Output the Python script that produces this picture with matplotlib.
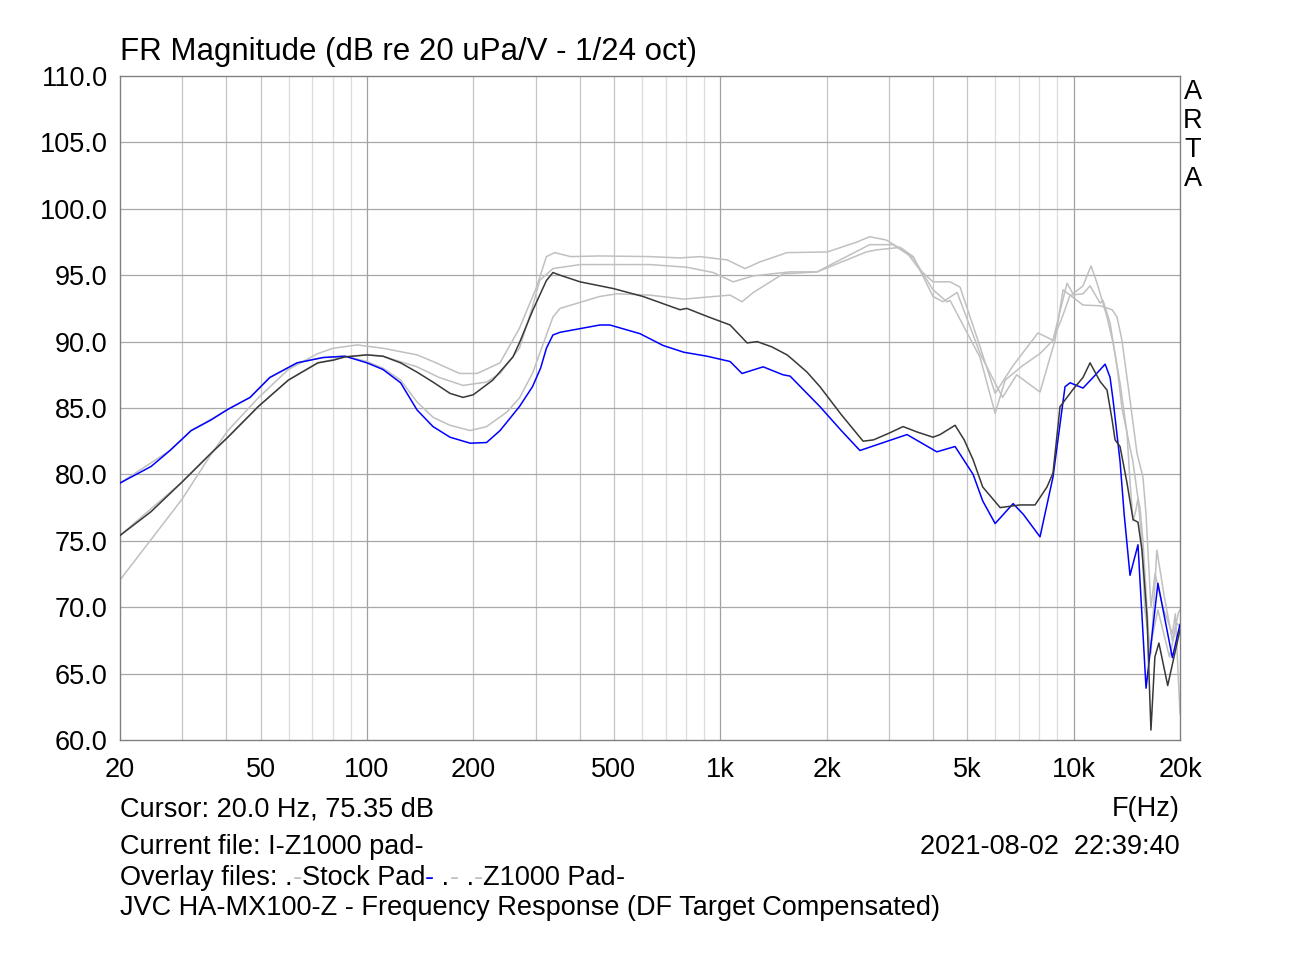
import matplotlib
matplotlib.use("Agg")
import matplotlib.pyplot as plt
from matplotlib.ticker import FixedLocator, NullLocator

plt.rcParams['font.family'] = ['Liberation Sans', 'DejaVu Sans']

# current file: I-Z1000 pad (dark)
cur_f = [20, 24.5, 29.9, 36.2, 40.4, 49.2, 59.9, 72.6, 80.3, 86.7, 100, 111, 124.5, 138.6, 153.8,
         171.8, 187, 200, 227, 259, 270, 294, 322, 336, 352, 401, 497, 604, 769, 804, 917, 1066,
         1191, 1271, 1400, 1545, 1610, 1760, 1915, 2200, 2536, 2714, 3000, 3291, 3600, 4000, 4188,
         4618, 4900, 5194, 5530, 6195, 7046, 7776, 8406, 8741, 9152, 9960, 10630, 11130, 11880,
         12430, 12850, 13100, 13530, 14160, 14730, 15210, 15610, 16130, 16550, 16980, 17430, 18460, 20000]
cur_db = [75.4, 77.2, 79.4, 81.6, 82.8, 85.1, 87.1, 88.4, 88.6, 88.85, 89.0, 88.9, 88.4, 87.7, 86.95,
          86.1, 85.8, 86.0, 87.1, 88.85, 89.9, 92.3, 94.6, 95.2, 95.0, 94.5, 94.0, 93.4, 92.4, 92.5, 91.9, 91.25,
          89.9, 90.0, 89.6, 89.0, 88.6, 87.7, 86.6, 84.5, 82.5, 82.6, 83.1, 83.6, 83.2, 82.8, 83.0,
          83.7, 82.6, 81.1, 79.05, 77.5, 77.7, 77.7, 79.05, 80.1, 85.1, 86.4, 87.3, 88.4, 87.0,
          86.35, 84.1, 82.6, 82.1, 79.35, 76.6, 76.4, 74.3, 69.3, 60.75, 66.25, 67.3, 64.1, 68.3]

# overlay: Stock Pad (blue)
stock_f = [20, 24.5, 27.7, 31.8, 36.2, 40.4, 46.7, 53.1, 63.4, 75.1, 86.7, 100, 111, 124.5, 138.6,
           153.8, 171.8, 196, 218, 238, 270, 294, 310, 322, 336, 352, 456, 487, 592, 690, 788, 917,
           1066, 1152, 1322, 1505, 1576, 1915, 2200, 2484, 3376, 4100, 4618, 5194, 5530, 5996, 6741,
           7200, 8032, 8741, 9454, 9768, 10630, 11350, 12280, 12680, 12930, 13530, 13900, 14440,
           15210, 16030, 17320, 19030, 20000]
stock_db = [79.35, 80.6, 81.8, 83.3, 84.1, 84.9, 85.8, 87.3, 88.4, 88.8, 88.9, 88.4, 87.9, 86.9, 84.85,
            83.6, 82.8, 82.35, 82.4, 83.3, 85.1, 86.6, 88.0, 89.5, 90.5, 90.7, 91.25, 91.25, 90.6, 89.7, 89.2,
            88.9, 88.5, 87.6, 88.1, 87.5, 87.4, 85.1, 83.3, 81.8, 83.0, 81.7, 82.1, 80.0, 78.0, 76.3, 77.8,
            77.0, 75.3, 79.8, 86.6, 86.9, 86.5, 87.3, 88.3, 87.3, 85.6, 81.0, 77.0, 72.4,
            74.7, 63.9, 71.8, 66.2, 68.7]

# unnamed overlays (light grey)
g1_f = [20, 24.5, 29.9, 36.2, 40.4, 49.2, 59.9, 72.6, 80.3, 93.9, 111, 138.6, 153.8, 183, 205, 238,
        270, 302, 322, 340, 377, 456, 632, 769, 876, 1046, 1175, 1294, 1545, 2008, 2437, 2647, 2950,
        3376, 3670, 4000, 4470, 4770, 5436, 5996, 6741, 7926, 8741, 9332, 9578, 9960, 10630, 11200,
        11650, 12430, 12930, 13530, 14160, 14440, 14730, 15000, 15210, 15600, 15900, 16550, 17200,
        18000, 19030, 19800, 20000]
g1_db = [72.05, 75.1, 78.1, 81.5, 83.3, 85.75, 87.9, 89.1, 89.5, 89.75, 89.5, 89.0, 88.5, 87.6, 87.6, 88.4,
         91.0, 94.1, 96.4, 96.7, 96.4, 96.45, 96.4, 96.3, 96.4, 96.15, 95.5, 96.0, 96.7, 96.75, 97.5, 97.9, 97.65,
         96.7, 95.4, 94.5, 94.5, 94.1, 89.6, 86.1, 88.2, 90.65, 90.1, 93.2, 94.4, 93.6, 94.2, 95.7,
         94.4, 91.85, 89.9, 86.9, 83.1, 79.4, 76.5, 77.3, 78.2, 75.0, 69.8, 66.5, 74.3,
         71.0, 67.5, 69.6, 69.8]

g2_f = [20, 27.7, 31.8, 40.4, 46.7, 53.1, 63.4, 75.1, 86.7, 100, 111, 124.5, 138.6, 153.8, 171.8,
        196, 218, 249, 270, 294, 322, 336, 352, 456, 510, 632, 788, 1066, 1152, 1240, 1505, 1880,
        2590, 2760, 3232, 3516, 4000, 4270, 4680, 5436, 6290, 6900, 8032, 8858, 9332, 9768, 10630,
        11880, 12850, 13270, 13700, 14440, 15110, 15710, 16030, 16550, 17000, 17900, 19030, 19400, 20000]
g2_db = [79.35, 81.8, 83.3, 84.9, 85.8, 87.3, 88.4, 88.8, 88.9, 88.5, 88.0, 87.1, 85.45, 84.3, 83.7,
         83.3, 83.6, 84.7, 85.75, 87.6, 90.5, 91.85, 92.5, 93.4, 93.6, 93.5, 93.2, 93.5, 93.0, 93.7, 95.1, 95.25,
         96.75, 96.9, 97.1, 96.4, 93.4, 93.0, 93.7, 89.1, 85.8, 87.5, 86.2, 90.1, 93.9, 93.5, 92.75,
         92.7, 92.4, 91.85, 90.1, 85.6, 81.6, 79.8, 77.0, 70.0, 72.5, 70.0, 68.0, 69.5, 62.0]

g3_f = [20, 29.9, 40.4, 49.2, 59.9, 72.6, 86.7, 100, 111, 138.6, 160, 187, 218, 238, 270, 294, 308,
        336, 401, 632, 804, 955, 1088, 1240, 1576, 1880, 2092, 2647, 3080, 3516, 4000, 4380, 4470,
        5436, 5996, 6400, 7180, 8032, 8741, 9332, 9768, 10630, 11130, 11880, 12110, 12680, 13270,
        13700, 14730, 15210, 15410, 15710, 16400, 17320, 18670, 19600, 20000]
g3_db = [75.4, 79.4, 82.8, 85.1, 87.1, 88.4, 88.85, 89.0, 88.9, 88.1, 87.3, 86.7, 86.95, 87.6, 89.5, 92.6, 94.6,
         95.5, 95.8, 95.8, 95.6, 95.2, 94.5, 94.95, 95.25, 95.25, 95.9, 97.3, 97.3, 96.3, 93.9, 93.0, 93.1,
         88.8, 84.6, 87.1, 88.2, 89.1, 90.1, 92.0, 93.5, 93.6, 94.2, 92.9, 93.1, 91.4, 88.1,
         85.0, 80.9, 78.2, 77.5, 75.0, 66.8, 69.8, 66.25, 68.8, 68.5]

x_ticks = [20, 50, 100, 200, 500, 1000, 2000, 5000, 10000, 20000]
x_labels = ['20', '50', '100', '200', '500', '1k', '2k', '5k', '10k', '20k']
y_ticks = [60, 65, 70, 75, 80, 85, 90, 95, 100, 105, 110]

title = 'FR Magnitude (dB re 20 uPa/V - 1/24 oct)'
cursor_txt = 'Cursor: 20.0 Hz, 75.35 dB'
current_txt = 'Current file: I-Z1000 pad-'
date_txt = '2021-08-02  22:39:40'
caption = 'JVC HA-MX100-Z - Frequency Response (DF Target Compensated)'
overlay_parts = [('Overlay files: .', 'black'), ('-', '#c0c0c0'), ('Stock Pad', 'black'),
                 ('-', '#0000ff'), (' .', 'black'), ('-', '#c0c0c0'), (' .', 'black'),
                 ('-', '#c0c0c0'), ('Z1000 Pad', 'black'), ('-', 'black')]

W, H = 1300, 956
fs = 19.5

fig = plt.figure(figsize=(W / 100, H / 100), dpi=100)
ax = fig.add_axes([120 / W, 1 - 740 / H, 1060 / W, 664 / H])

# grid like ARTA: decades darker, 6..9 lighter
for dec in [10, 100, 1000, 10000]:
    for m in range(1, 10):
        f = dec * m
        if f <= 20 or f >= 20000:
            continue
        if m == 1:
            c = '#a0a0a0'
        elif m <= 5:
            c = '#c4c4c4'
        else:
            c = '#dcdcdc'
        ax.axvline(f, color=c, lw=0.9, zorder=0)
for y in y_ticks[1:-1]:
    ax.axhline(y, color='#a8a8a8', lw=0.9, zorder=0)

lw = 1.1
ax.plot(g1_f, g1_db, color='#c0c0c0', lw=lw, zorder=2)
ax.plot(g2_f, g2_db, color='#c0c0c0', lw=lw, zorder=2)
ax.plot(g3_f, g3_db, color='#c0c0c0', lw=lw, zorder=2)
ax.plot(stock_f, stock_db, color='#0000ff', lw=lw, zorder=3)
ax.plot(cur_f, cur_db, color='#383838', lw=lw, zorder=4)

ax.set_xscale('log')
ax.set_xlim(20, 20000)
ax.set_ylim(60, 110)
ax.xaxis.set_major_locator(FixedLocator(x_ticks))
ax.xaxis.set_minor_locator(NullLocator())
ax.set_xticklabels(x_labels)
ax.set_yticks(y_ticks)
ax.set_yticklabels(['%.1f' % v for v in y_ticks])
ax.tick_params(length=0, labelsize=fs)
ax.tick_params(axis='x', pad=12)
ax.tick_params(axis='y', pad=9)
for s in ax.spines.values():
    s.set_color('#808080')
    s.set_linewidth(1.0)

fig.text(120 / W, 1 - 52 / H, title, fontsize=22.5, va='center', ha='left')
for i, ch in enumerate('ARTA'):
    fig.text(1193 / W, 1 - (92 + 29 * i) / H, ch, fontsize=fs, va='center', ha='center')

fig.text(120 / W, 1 - 809 / H, cursor_txt, fontsize=fs, va='center', ha='left')
fig.text(1180 / W, 1 - 809 / H, 'F(Hz)', fontsize=fs, va='center', ha='right')
fig.text(120 / W, 1 - 847 / H, current_txt, fontsize=fs, va='center', ha='left')
fig.text(1180 / W, 1 - 847 / H, date_txt, fontsize=fs, va='center', ha='right')

# overlay list with coloured dashes, pieces chained one after another
prev = fig.text(120 / W, 1 - 878 / H, overlay_parts[0][0], fontsize=fs, va='center', ha='left',
                color=overlay_parts[0][1])
for txt, col in overlay_parts[1:]:
    prev = ax.annotate(txt, xy=(1, 0.5), xycoords=prev, va='center', ha='left', fontsize=fs,
                       color=col, annotation_clip=False)

fig.text(120 / W, 1 - 908 / H, caption, fontsize=fs, va='center', ha='left')

fig.savefig('out.png', dpi=100, facecolor='white')
